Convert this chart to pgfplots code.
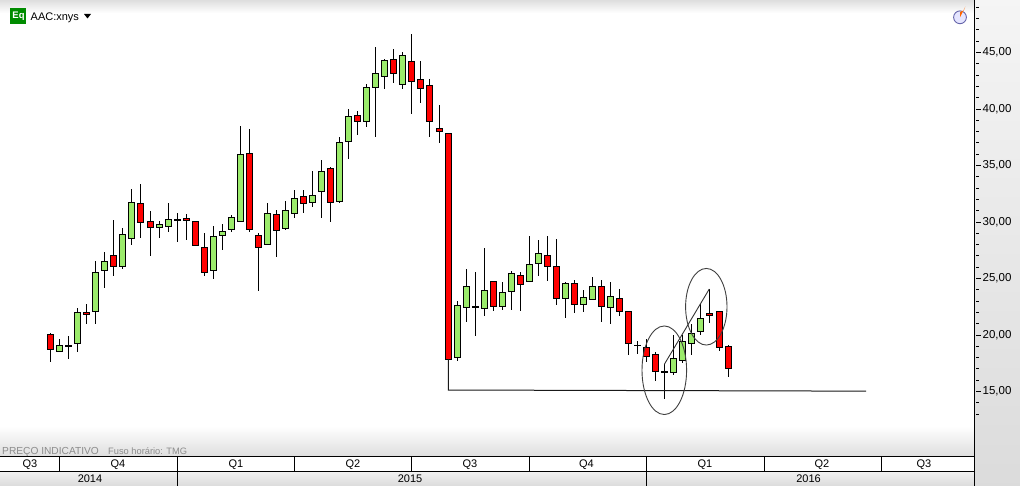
\documentclass[border=0pt]{standalone}
\usepackage{pgfplots}
\usepackage{pgfplotstable}
\usepackage{fontspec}
\setmainfont{Liberation Sans}
\pgfplotsset{compat=1.18}
\definecolor{cg}{RGB}{155,235,107}
\definecolor{cr}{RGB}{255,0,0}
% x position, low, body bottom, body top, high
\pgfplotstableread{
x low bot top high
59.3 18.56 18.56 19.06 19.65
77.3 18.53 19.27 22.01 22.36
95.3 21.00 22.10 25.55 26.55
104.3 24.19 25.73 26.52 27.35
122.3 25.87 26.08 28.91 29.47
131.3 27.99 28.56 31.74 32.92
159.3 28.62 29.53 29.80 30.06
168.3 29.15 29.62 30.24 31.68
213.3 24.99 25.73 28.73 29.65
222.3 27.55 28.82 29.18 29.83
231.3 29.15 29.35 30.42 30.62
240.3 30.06 30.06 35.99 38.50
267.3 28.02 28.02 30.77 31.65
285.3 29.26 29.44 31.03 31.86
294.3 30.33 30.77 32.10 32.80
312.3 31.36 31.74 32.36 34.48
321.3 30.38 32.71 34.48 35.46
339.3 31.71 31.80 37.05 37.49
348.3 35.58 37.14 39.35 40.00
366.3 38.44 38.91 41.92 42.18
375.3 37.55 41.92 43.16 45.46
384.3 41.80 42.89 44.31 44.40
402.3 41.80 42.18 44.75 45.01
457.3 17.73 18.03 22.63 22.98
466.3 21.18 22.45 24.31 25.84
484.3 21.71 22.36 23.95 27.70
502.3 22.24 22.54 23.78 24.66
511.3 22.24 23.84 25.46 25.63
529.3 24.75 24.75 26.25 28.73
538.3 25.25 26.34 27.23 28.38
565.3 21.53 23.25 24.57 24.66
583.3 22.07 22.71 23.33 23.95
592.3 23.16 23.16 24.31 25.10
610.3 21.00 22.45 23.42 24.66
673.3 16.46 16.67 17.94 19.99
682.3 17.55 17.76 19.44 19.99
691.3 18.26 19.26 20.15 20.97
700.3 20.03 20.30 21.47 22.74
}\greens
\pgfplotstableread{
x low bot top high
50.3 17.64 18.73 20.06 20.18
86.3 21.00 21.83 22.01 22.75
113.3 25.25 26.08 27.05 30.18
140.3 28.62 29.97 31.65 33.37
150.3 27.02 29.53 30.06 30.98
186.3 28.44 30.15 30.33 30.71
195.3 27.94 27.94 30.06 30.06
204.3 25.25 25.55 27.76 29.03
249.3 29.15 29.35 36.08 38.23
258.3 23.93 27.76 28.82 29.00
276.3 26.93 29.26 30.68 31.06
303.3 30.77 31.65 32.27 32.80
330.3 30.03 31.74 34.75 34.87
357.3 37.73 38.91 39.44 39.79
393.3 42.33 43.16 44.40 45.28
411.3 39.59 42.45 44.22 46.61
420.3 40.56 41.83 42.63 44.22
429.3 37.55 38.91 42.10 42.63
439.3 37.02 38.03 38.29 40.35
448.3 17.85 17.85 37.85 37.85
493.3 22.15 22.54 24.75 24.75
520.3 22.15 24.48 25.28 25.55
547.3 24.81 26.08 27.05 28.73
556.3 22.68 23.25 26.08 28.47
574.3 21.98 22.71 24.57 24.84
601.3 21.18 22.54 24.31 24.84
619.3 21.71 22.10 23.25 24.04
628.3 18.26 19.26 22.10 22.10
646.3 17.64 18.11 18.91 19.62
655.3 15.96 16.78 18.29 18.47
709.3 21.09 21.74 21.92 24.07
719.3 18.61 18.88 22.10 22.10
728.3 16.31 17.05 19.00 19.09
}\reds
\pgfplotstableread{
x low bot top high
68.3 17.91 18.98 19.11 19.91
177.3 28.26 30.13 30.26 30.80
475.3 19.94 22.50 22.50 25.58
637.3 18.35 19.09 19.09 19.47
664.3 14.36 16.66 16.79 17.40
}\dojis
% wick layer
\newcommand{\wicks}[1]{\addplot[draw=none,mark=none,forget plot,error bars/.cd,y dir=both,y explicit,error mark=none,
  error bar style={black,line width=1.1pt}] table[x=x,y expr=(\thisrow{low}+\thisrow{high})/2,
  y error plus expr=(\thisrow{high}-\thisrow{low})/2,y error minus expr=(\thisrow{high}-\thisrow{low})/2] {#1};}
% body layer: table, colour, width, extra half height in price units
\newcommand{\bodies}[4]{\addplot[draw=none,mark=none,forget plot,error bars/.cd,y dir=both,y explicit,error mark=none,
  error bar style={#2,line width=#3}] table[x=x,y expr=(\thisrow{bot}+\thisrow{top})/2,
  y error plus expr=(\thisrow{top}-\thisrow{bot})/2+#4,y error minus expr=(\thisrow{top}-\thisrow{bot})/2+#4] {#1};}
\begin{document}
\begin{tikzpicture}
\path[use as bounding box] (0,0) rectangle (1020pt,-486pt);
\begin{scope}[x=1pt,y=-1pt]
\fill[white] (0,0) rectangle (974,456);
\shade[top color=black!13,bottom color=white] (0,0) rectangle (974,13);
\shade[top color=white,bottom color=black!13] (0,426) rectangle (974,456.5);
\shade[top color=black!4,bottom color=black!14] (974,0) rectangle (1020,486);
\end{scope}
\begin{axis}[
  at={(0pt,-456pt)},anchor=south west,scale only axis,width=974pt,height=456pt,
  xmin=0,xmax=974,ymin=9.29,ymax=49.65,
  axis x line=none,axis y line=right,axis line style={-,black,line width=1pt},
  xtick=\empty,
  ytick={15,20,25,30,35,40,45},
  yticklabels={{15,00},{20,00},{25,00},{30,00},{35,00},{40,00},{45,00}},
  minor ytick={13,14,16,17,18,19,21,22,23,24,26,27,28,29,31,32,33,34,36,37,38,39,41,42,43,44,46,47,48,49},
  tick align=outside,major tick length=5pt,minor tick length=3pt,
  tick style={black,line width=0.9pt,xshift=1.5pt},
  yticklabel style={font=\fontsize{11.5}{13}\selectfont,xshift=1.5pt,inner sep=2pt},
  /pgf/number format/assume math mode=true,
  clip=false,
]
\wicks{\greens}\wicks{\reds}\wicks{\dojis}
\bodies{\greens}{black}{6.8pt}{0.048}
\bodies{\greens}{cg}{4.9pt}{-0.04}
\bodies{\reds}{black}{6.8pt}{0.048}
\bodies{\reds}{cr}{4.9pt}{-0.04}
\bodies{\dojis}{black}{6.8pt}{0.048}
% hand-drawn trend lines and circles
\addplot[black!90,line width=1pt] coordinates {(448.3,17.85)(448.3,15.13)(866,15.03)};
\addplot[black!80,line width=0.9pt] coordinates {(664.3,17.40)(709.3,24.07)};
\draw[black!75,line width=0.9pt] (axis cs:664.3,16.88) ellipse [x radius=22.3,y radius=3.92];
\draw[black!75,line width=0.9pt] (axis cs:706.3,22.50) ellipse [x radius=20.7,y radius=3.39];
\end{axis}
\begin{scope}[x=1pt,y=-1pt,font=\fontsize{11}{13}\selectfont]
% header
\fill[green!55!black] (10,8) rectangle (26,24);
\node[white,inner sep=0,font=\fontsize{9.5}{11}\bfseries\selectfont] at (18.5,16) {Eq};
\node[anchor=base west,inner sep=0] at (30.5,20.5) {AAC:xnys};
\fill[black] (84,14) -- (91,14) -- (87.5,18.5) -- cycle;
\draw[blue!45!black!60,fill=blue!10,line width=0.9pt] (960,17.3) circle (6.4);
\fill[orange!80!red] (960,17.3) -- (960,12) arc (90:0:5.3) -- cycle;
% footer text
\node[anchor=base west,inner sep=0,black!45,font=\fontsize{10.2}{12}\selectfont] at (2,454) {PREÇO INDICATIVO};
\node[anchor=base west,inner sep=0,black!45,font=\fontsize{9.3}{12}\selectfont] at (108,454) {Fuso horário: TMG};
% time strip
\fill[white] (0,457) rectangle (974,471);
\shade[top color=black!5,bottom color=black!14] (0,471) rectangle (974,486);
\draw[black,line width=1pt] (0,456.7) -- (974.5,456.7);
\draw[black,line width=1pt] (0,471.3) -- (974.5,471.3);
\draw[black,line width=1pt] (974.5,456) -- (974.5,486);
\foreach \x in {59,177.7,294.3,411.7,529.3,646.7,764.3,881.7} \draw[black,line width=1pt] (\x,456.7) -- (\x,471.3);
\foreach \x in {177.7,646.7} \draw[black,line width=1pt] (\x,471.3) -- (\x,486);
\foreach \x/\t in {30/Q3,118/Q4,236/Q1,353/Q2,470/Q3,586.5/Q4,705/Q1,822/Q2,924/Q3}
  \node[inner sep=0] at (\x,464.3) {\t};
\foreach \x/\t in {90/2014,410/2015,808.5/2016}
  \node[inner sep=0] at (\x,479) {\t};
\end{scope}
\end{tikzpicture}
\end{document}
